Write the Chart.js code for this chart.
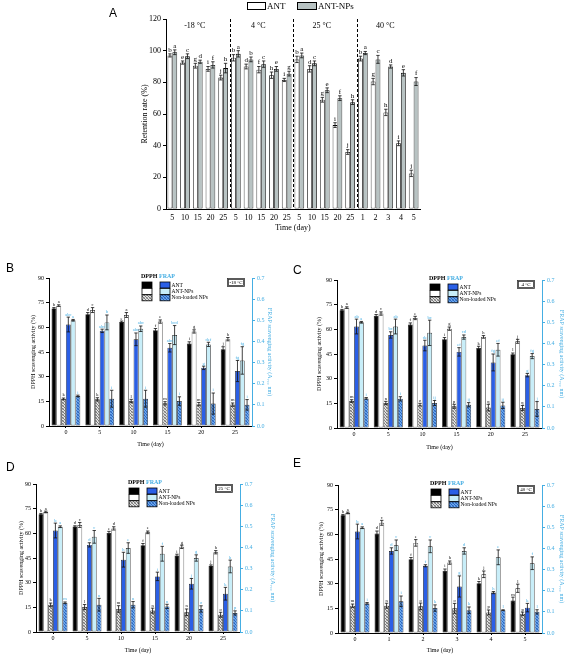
<!DOCTYPE html>
<html><head><meta charset="utf-8">
<script src="https://cdn.jsdelivr.net/npm/chart.js@4.4.0/dist/chart.umd.min.js"></script>
<style>
html,body{margin:0;padding:0;background:#fff;width:567px;height:655px;overflow:hidden;position:relative;}
canvas{position:absolute;}
.lbl{position:absolute;font-family:'Liberation Sans','DejaVu Sans',sans-serif;font-size:12px;line-height:12px;color:#000;z-index:5;}
</style></head><body>
<div class="lbl" style="left:109px;top:7px">A</div>
<div class="lbl" style="left:6px;top:262px">B</div>
<div class="lbl" style="left:293px;top:264px">C</div>
<div class="lbl" style="left:6px;top:461px">D</div>
<div class="lbl" style="left:293px;top:457px">E</div>
<canvas id="cA" width="340" height="240" style="left:100px;top:0px"></canvas>
<canvas id="cB" width="283" height="195" style="left:0px;top:262px"></canvas>
<canvas id="cC" width="282" height="195" style="left:285px;top:264px"></canvas>
<canvas id="cD" width="283" height="185" style="left:0px;top:470px"></canvas>
<canvas id="cE" width="282" height="185" style="left:285px;top:470px"></canvas>
<script>
// ---------------- DATA ----------------
// Panel A: retention rate (%)
const retentionGroups = ['-18 °C', '4 °C', '25 °C', '40 °C'];
const retentionDays = ['5','10','15','20','25','5','10','15','20','25','5','10','15','20','25','1','2','3','4','5'];
const antRetention = [97, 92.5, 90.5, 88.5, 83, 95.5, 90, 88, 84.5, 81.5, 94.5, 88.5, 69, 53, 36, 95, 80.5, 61, 41.5, 22.5];
const antRetentionErr = [1, 1, 1.5, 1.5, 1.5, 2, 1.5, 2, 2, 1, 2, 2, 1.5, 1.5, 1.5, 1.5, 2, 2, 1.5, 2];
const antRetentionLetters = ['b','e','g','i','j','b','d','f','h','i','b','d','g','i','j','b','g','h','i','j'];
const antNPsRetention = [99, 96.5, 93, 91, 89, 98, 94.5, 91.5, 88.5, 85.5, 97, 92, 75, 70, 67.5, 98.5, 94.5, 90, 86, 80.5];
const antNPsRetentionErr = [1.5, 1.5, 1, 2, 3, 2, 1.5, 2, 1.5, 1.5, 1.5, 1.5, 1.5, 1.5, 1.5, 1, 2.5, 1, 2, 2.5];
const antNPsRetentionLetters = ['a','c','d','f','h','a','b','c','e','g','a','c','e','f','h','a','c','d','e','f'];

// Panel B: -18 °C
const daysB = ['0','5','10','15','20','25'];
const dpphAntB = [71.5, 68, 63.3, 58.3, 50.2, 46.7];
const dpphAntBErr = [0.5, 1, 0.5, 1, 1, 1.5];
const dpphNpsB = [73.2, 70.5, 67.5, 63.5, 57.5, 52.8];
const dpphNpsBErr = [0.5, 1.5, 1.5, 1, 1, 1];
const dpphNlB = [16.5, 16.2, 15.2, 13.8, 13.3, 13];
const dpphNlBErr = [0.5, 1, 1, 1, 1, 1];
const frapAntB = [0.48, 0.45, 0.41, 0.37, 0.275, 0.26];
const frapAntBErr = [0.035, 0.008, 0.03, 0.02, 0.008, 0.05];
const frapNpsB = [0.50, 0.49, 0.46, 0.43, 0.386, 0.31];
const frapNpsBErr = [0.004, 0.035, 0.013, 0.045, 0.01, 0.065];
const frapNlB = [0.142, 0.129, 0.129, 0.118, 0.106, 0.1];
const frapNlBErr = [0.004, 0.04, 0.04, 0.02, 0.05, 0.025];

// Panel C: 4 °C
const daysC = ['0','5','10','15','20','25'];
const dpphAntC = [71.6, 68.2, 62.9, 54, 48.7, 44.8];
const dpphAntCErr = [0.5, 0.8, 1, 1, 1, 0.8];
const dpphNpsC = [73.2, 69.6, 66.9, 60.4, 55.4, 52.7];
const dpphNpsCErr = [0.5, 1, 1, 1, 0.8, 1.2];
const dpphNlC = [16.4, 15.2, 14.2, 13.2, 12.4, 12.2];
const dpphNlCErr = [0.8, 1, 0.8, 1.2, 2, 1.5];
const frapAntC = [0.48, 0.44, 0.39, 0.36, 0.31, 0.25];
const frapAntCErr = [0.035, 0.015, 0.025, 0.02, 0.04, 0.008];
const frapNpsC = [0.50, 0.48, 0.45, 0.43, 0.37, 0.34];
const frapNpsCErr = [0.004, 0.035, 0.06, 0.01, 0.03, 0.012];
const frapNlC = [0.14, 0.138, 0.118, 0.11, 0.107, 0.09];
const frapNlCErr = [0.004, 0.01, 0.012, 0.01, 0.015, 0.035];

// Panel D: 25 °C
const daysD = ['0','5','10','15','20','25'];
const dpphAntD = [71.6, 64.1, 60.2, 52.8, 46.5, 40.3];
const dpphAntDErr = [0.5, 0.5, 1, 1, 0.8, 0.5];
const dpphNpsD = [73, 65.1, 63, 60.6, 51.8, 48.5];
const dpphNpsDErr = [0.5, 1.5, 1, 0.8, 1, 1];
const dpphNlD = [16.6, 15.2, 14, 13, 12, 10.5];
const dpphNlDErr = [1, 1.5, 2, 1.5, 2, 1.5];
const frapAntD = [0.48, 0.412, 0.342, 0.263, 0.228, 0.181];
const frapAntDErr = [0.035, 0.01, 0.035, 0.02, 0.025, 0.03];
const frapNpsD = [0.498, 0.45, 0.397, 0.37, 0.35, 0.31];
const frapNpsDErr = [0.004, 0.03, 0.025, 0.035, 0.015, 0.03];
const frapNlD = [0.138, 0.129, 0.129, 0.121, 0.109, 0.09];
const frapNlDErr = [0.004, 0.03, 0.015, 0.01, 0.015, 0.01];

// Panel E: 40 °C
const daysE = ['0','1','2','3','4','5'];
const dpphAntE = [71.6, 60.5, 44.9, 37.9, 30.3, 19.8];
const dpphAntEErr = [0.5, 1.5, 1, 1, 1, 2];
const dpphNpsE = [73, 67, 54.8, 42.8, 35.7, 27.2];
const dpphNpsEErr = [0.5, 1.5, 2, 1, 2, 2.5];
const dpphNlE = [16.6, 16.6, 16.2, 15, 12.5, 11.7];
const dpphNlEErr = [1, 1.5, 2, 3, 1.5, 1];
const frapAntE = [0.48, 0.388, 0.318, 0.22, 0.191, 0.12];
const frapAntEErr = [0.035, 0.015, 0.005, 0.05, 0.005, 0.02];
const frapNpsE = [0.498, 0.415, 0.41, 0.388, 0.358, 0.33];
const frapNpsEErr = [0.004, 0.025, 0.03, 0.015, 0.035, 0.03];
const frapNlE = [0.14, 0.15, 0.118, 0.108, 0.108, 0.1];
const frapNlEErr = [0.004, 0.025, 0.015, 0.015, 0.002, 0.01];

// significance letters (DPPH ANT, DPPH ANT-NPs, DPPH non-loaded, FRAP ANT, FRAP ANT-NPs, FRAP non-loaded)
const lettersB = [['b','d','e','f','i','j'],['a','c','a','e','g','h'],['k','k','l','m','m','m'],['abc','abc','abc','abc','g','fg'],['a','b','abc','bcd','def','fg'],['i','i','i','i','i','i']];
const lettersC = [['b','d','f','i','k','l'],['a','c','e','g','h','j'],['m','n','o','p','q','q'],['ab','bc','de','ef','fg','g'],['a','ab','bc','cd','ef','fg'],['i','i','ij','ij','ij','j']];
const lettersD = [['b','d','e','f','i','j'],['a','c','d','e','g','h'],['k','l','m','n','n','o'],['b','d','h','i','j','k'],['a','c','e','f','g','h'],['m','n','n','n','o','p']];
const lettersE = [['b','d','f','i','k','m'],['a','c','e','h','j','l'],['m','n','o','o','p','p'],['b','d','f','g','h','k'],['a','c','c','d','e','f'],['i','i','k','k','l','l']];

const seriesNames = ['ANT', 'ANT-NPs', 'Non-loaded NPs'];

// ---------------- STYLE ----------------
const SERIF = "'Liberation Serif','Times New Roman',serif";
Chart.defaults.font.family = SERIF;
Chart.defaults.color = '#000';
Chart.defaults.animation = false;
const FRAP_BLUE = '#45aee3';
const BLUE = '#2a5fe6';
const CYAN = '#c8eef9';

function makePattern(bg, fg) {
  const c = document.createElement('canvas'); c.width = 3; c.height = 3;
  const g = c.getContext('2d');
  g.fillStyle = bg; g.fillRect(0, 0, 3, 3);
  g.fillStyle = fg; g.fillRect(0, 0, 1, 1); g.fillRect(2, 2, 1, 1); g.fillRect(1, 1, 1, 1);
  g.globalAlpha = 0.5; g.fillRect(2, 0, 1, 1); g.fillRect(0, 2, 1, 1);
  return g.createPattern(c, 'repeat');
}
const grayHatch = makePattern('#e2e2e2', '#7a7a7a');
const blueHatch = makePattern('#6aa8ec', '#2b64c0');

const errPlugin = {
  id: 'errPlugin',
  afterDatasetsDraw(chart, args, opts) {
    const ctx = chart.ctx;
    chart.data.datasets.forEach((ds, i) => {
      if (!ds.errors) return;
      const meta = chart.getDatasetMeta(i);
      const sc = chart.scales[ds.yAxisID || 'y'];
      meta.data.forEach((bar, j) => {
        const v = ds.data[j], e = ds.errors[j];
        const x = bar.x;
        const yT = sc.getPixelForValue(v + e), yB = sc.getPixelForValue(v - e);
        const cap = Math.max(1.5, bar.width * 0.35);
        ctx.save();
        ctx.strokeStyle = '#111'; ctx.lineWidth = 0.8;
        ctx.beginPath();
        ctx.moveTo(x, yT); ctx.lineTo(x, yB);
        ctx.moveTo(x - cap, yT); ctx.lineTo(x + cap, yT);
        ctx.moveTo(x - cap, yB); ctx.lineTo(x + cap, yB);
        ctx.stroke();
        if (ds.letters) {
          ctx.fillStyle = ds.letterColor || '#000';
          ctx.font = (opts.letterSize || 5) + 'px ' + SERIF;
          ctx.textAlign = 'center'; ctx.textBaseline = 'bottom';
          ctx.fillText(ds.letters[j], x, yT - 0.5);
        }
        ctx.restore();
      });
    });
  }
};

// ---------------- PANEL A ----------------
const panelAPlugin = {
  id: 'panelA',
  afterDraw(chart) {
    const {ctx, chartArea: ca, scales: {x}} = chart;
    ctx.save();
    ctx.strokeStyle = '#000'; ctx.lineWidth = 1; ctx.setLineDash([3, 2]);
    [5, 10, 15].forEach(i => {
      const px = Math.round((x.getPixelForValue(i - 1) + x.getPixelForValue(i)) / 2) + 0.5;
      ctx.beginPath(); ctx.moveTo(px, ca.top); ctx.lineTo(px, ca.bottom); ctx.stroke();
    });
    ctx.setLineDash([]);
    ctx.fillStyle = '#000'; ctx.font = '8px ' + SERIF; ctx.textAlign = 'center'; ctx.textBaseline = 'middle';
    retentionGroups.forEach((g, k) => {
      const px = (x.getPixelForValue(k * 5) + x.getPixelForValue(k * 5 + 4)) / 2;
      ctx.fillText(g, px - 3, ca.top + 7);
    });
    // legend
    ctx.lineWidth = 1; ctx.strokeStyle = '#000';
    ctx.fillStyle = '#fff'; ctx.fillRect(147.5, 2.5, 18, 7); ctx.strokeRect(147.5, 2.5, 18, 7);
    ctx.fillStyle = '#b8c3c3'; ctx.fillRect(197.5, 2.5, 19, 7); ctx.strokeRect(197.5, 2.5, 19, 7);
    ctx.fillStyle = '#000'; ctx.font = '9px ' + SERIF; ctx.textAlign = 'left';
    ctx.fillText('ANT', 167, 6.5);
    ctx.fillText('ANT-NPs', 218, 6.5);
    ctx.restore();
  }
};

new Chart(document.getElementById('cA'), {
  type: 'bar',
  data: {
    labels: retentionDays,
    datasets: [
      {label: 'ANT', data: antRetention, errors: antRetentionErr, letters: antRetentionLetters,
       backgroundColor: '#ffffff', borderColor: '#000', borderWidth: 0.8, borderSkipped: false,
       categoryPercentage: 0.76, barPercentage: 1},
      {label: 'ANT-NPs', data: antNPsRetention, errors: antNPsRetentionErr, letters: antNPsRetentionLetters,
       backgroundColor: '#b8c3c3', borderColor: '#000', borderWidth: 0.8, borderSkipped: false,
       categoryPercentage: 0.76, barPercentage: 1}
    ]
  },
  options: {
    responsive: false, animation: false,
    layout: {padding: {left: 0, right: 20, top: 19, bottom: 0}},
    plugins: {legend: {display: false}, tooltip: {enabled: false}, errPlugin: {letterSize: 7}},
    scales: {
      x: {grid: {display: false, drawTicks: false}, border: {color: '#000', width: 1},
          ticks: {font: {size: 8}, padding: 4, autoSkip: false, maxRotation: 0, minRotation: 0},
          title: {display: true, text: 'Time (day)', font: {size: 8}, padding: {top: 0, bottom: 7}},
          afterFit(s) { s.height = 31; }},
      y: {min: 0, max: 120, ticks: {stepSize: 20, font: {size: 8}, padding: 2},
          grid: {drawOnChartArea: false, tickLength: 3, color: '#000'}, border: {color: '#000', width: 1},
          title: {display: true, text: 'Retention rate (%)', font: {size: 8}, padding: {top: 40, bottom: 0}},
          afterFit(s) { s.width = 66; }}
    }
  },
  plugins: [errPlugin, panelAPlugin]
});

// ---------------- PANELS B-E ----------------
const dualLegend = {
  id: 'dualLegend',
  afterDraw(chart, args, o) {
    const {ctx, chartArea: ca} = chart;
    const L = ca.left + 93, T = ca.top;
    ctx.save();
    ctx.textBaseline = 'middle'; ctx.textAlign = 'left';
    ctx.font = 'bold 6px ' + SERIF; ctx.fillStyle = '#000';
    ctx.fillText('DPPH', L - 1, T - 1.5);
    ctx.fillStyle = FRAP_BLUE; ctx.fillText('FRAP', L + 17, T - 1.5);
    const dFill = ['#000', '#fff', grayHatch];
    const fFill = [BLUE, CYAN, blueHatch];
    ctx.lineWidth = 0.8; ctx.strokeStyle = '#000';
    for (let r = 0; r < 3; r++) {
      const y = T + 4 + r * 6.4;
      ctx.fillStyle = dFill[r]; ctx.fillRect(L, y, 10, 6); ctx.strokeRect(L, y, 10, 6);
      ctx.fillStyle = fFill[r]; ctx.fillRect(L + 18, y, 10, 6); ctx.strokeRect(L + 18, y, 10, 6);
      ctx.fillStyle = '#000'; ctx.font = '5.5px ' + SERIF;
      ctx.fillText(seriesNames[r], L + 29.5, y + 3.2);
    }
    // temperature box
    ctx.strokeStyle = '#333'; ctx.lineWidth = 0.8;
    ctx.fillStyle = '#fff';
    ctx.strokeRect(ca.right - 24.5, T + 0.5, 17, 8);
    ctx.strokeRect(ca.right - 23.5, T + 1.5, 15, 6);
    ctx.fillStyle = '#000'; ctx.font = '5px ' + SERIF; ctx.textAlign = 'center';
    ctx.fillText(o.temp, ca.right - 16, T + 4.7);
    ctx.restore();
  }
};

function bar(label, data, errors, letters, bg, axis, lc) {
  return {label, data, errors, letters, letterColor: lc, backgroundColor: bg, borderColor: '#1a1a1a',
          borderWidth: 0.7, borderSkipped: false, yAxisID: axis, categoryPercentage: 0.85, barPercentage: 1};
}

function dualChart(id, days, s, L, temp, g) {
  new Chart(document.getElementById(id), {
    type: 'bar',
    data: {
      labels: days,
      datasets: [
        bar('DPPH ANT', s[0], s[1], L[0], '#000', 'y', '#000'),
        bar('DPPH ANT-NPs', s[2], s[3], L[1], '#fff', 'y', '#000'),
        bar('DPPH Non-loaded NPs', s[4], s[5], L[2], grayHatch, 'y', '#000'),
        bar('FRAP ANT', s[6], s[7], L[3], BLUE, 'y2', FRAP_BLUE),
        bar('FRAP ANT-NPs', s[8], s[9], L[4], CYAN, 'y2', FRAP_BLUE),
        bar('FRAP Non-loaded NPs', s[10], s[11], L[5], blueHatch, 'y2', FRAP_BLUE)
      ]
    },
    options: {
      responsive: false, animation: false,
      layout: {padding: {left: 0, right: 0, top: g.top, bottom: 0}},
      plugins: {legend: {display: false}, tooltip: {enabled: false}, errPlugin: {letterSize: 4.5}, dualLegend: {temp}},
      scales: {
        x: {grid: {display: true, drawOnChartArea: false, drawTicks: true, tickLength: 2, color: '#000', offset: false},
            border: {color: '#000', width: 1},
            ticks: {font: {size: 6}, padding: 1, autoSkip: false, maxRotation: 0, minRotation: 0},
            title: {display: true, text: 'Time (day)', font: {size: 6}, padding: {top: 0, bottom: g.xpad}},
            afterFit(sc) { sc.height = g.xh; }},
        y: {position: 'left', min: 0, max: 90, ticks: {stepSize: 15, font: {size: 6}, padding: 2},
            grid: {drawOnChartArea: false, tickLength: 3, color: '#000'}, border: {color: '#000', width: 1},
            title: {display: true, text: 'DPPH scavenging activity (%)', font: {size: 6}, padding: {top: g.lpad, bottom: 0}},
            afterFit(sc) { sc.width = g.lw; }},
        y2: {position: 'right', min: 0, max: 0.7,
             ticks: {stepSize: 0.1, font: {size: 6}, padding: 2, color: FRAP_BLUE, callback: v => Number(v).toFixed(1)},
             grid: {drawOnChartArea: false, tickLength: 3, color: FRAP_BLUE}, border: {color: FRAP_BLUE, width: 1},
             title: {display: true, text: 'FRAP scavenging activity (A₇₀₀ nm)', color: FRAP_BLUE, font: {size: 6}, padding: {top: g.rpad, bottom: 0}},
             afterFit(sc) { sc.width = g.rw; }}
      }
    },
    plugins: [errPlugin, dualLegend]
  });
}

dualChart('cB', daysB,
  [dpphAntB, dpphAntBErr, dpphNpsB, dpphNpsBErr, dpphNlB, dpphNlBErr, frapAntB, frapAntBErr, frapNpsB, frapNpsBErr, frapNlB, frapNlBErr],
  lettersB, '-18 °C', {top: 16, xh: 31, xpad: 9.4, lw: 49, lpad: 29.4, rw: 31, rpad: 9.4});
dualChart('cC', daysC,
  [dpphAntC, dpphAntCErr, dpphNpsC, dpphNpsCErr, dpphNlC, dpphNlCErr, frapAntC, frapAntCErr, frapNpsC, frapNpsCErr, frapNlC, frapNlCErr],
  lettersC, '4 °C', {top: 16, xh: 31, xpad: 8.4, lw: 52, lpad: 30.4, rw: 25, rpad: 1.7});
dualChart('cD', daysD,
  [dpphAntD, dpphAntDErr, dpphNpsD, dpphNpsDErr, dpphNlD, dpphNlDErr, frapAntD, frapAntDErr, frapNpsD, frapNpsDErr, frapNlD, frapNlDErr],
  lettersD, '25 °C', {top: 14, xh: 23, xpad: 1.4, lw: 36, lpad: 17.4, rw: 43, rpad: 6.4});
dualChart('cE', daysE,
  [dpphAntE, dpphAntEErr, dpphNpsE, dpphNpsEErr, dpphNlE, dpphNlEErr, frapAntE, frapAntEErr, frapNpsE, frapNpsEErr, frapNlE, frapNlEErr],
  lettersE, '40 °C', {top: 15, xh: 22, xpad: 1.4, lw: 53, lpad: 33, rw: 25, rpad: 1.7});
</script>
</body></html>
